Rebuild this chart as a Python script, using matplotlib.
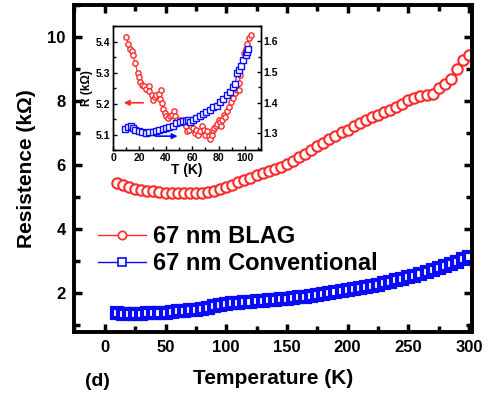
import matplotlib
matplotlib.use("Agg")
import matplotlib.pyplot as plt
from matplotlib.ticker import MultipleLocator

plt.rcParams["font.family"] = ["Liberation Sans", "DejaVu Sans"]
plt.rcParams["font.weight"] = "bold"

# main panel data: temperature (K) and resistance (kOhm)
temp = [10, 15, 20, 25, 30, 35, 40, 45, 50, 55, 60, 65, 70, 75, 80, 85, 90, 95,
        100, 105, 110, 115, 120, 125, 130, 135, 140, 145, 150, 155, 160, 165,
        170, 175, 180, 185, 190, 195, 200, 205, 210, 215, 220, 225, 230, 235,
        240, 245, 250, 255, 260, 265, 270, 275, 280, 285, 290, 295, 300]
r_blag = [5.43, 5.36, 5.30, 5.26, 5.22, 5.20, 5.18, 5.16, 5.14, 5.13, 5.12, 5.12,
          5.12, 5.12, 5.14, 5.17, 5.20, 5.26, 5.32, 5.39, 5.46, 5.53, 5.61, 5.68,
          5.75, 5.82, 5.89, 5.95, 6.02, 6.12, 6.24, 6.36, 6.48, 6.58, 6.68, 6.80,
          6.92, 7.02, 7.11, 7.21, 7.30, 7.40, 7.50, 7.58, 7.66, 7.73, 7.82, 7.92,
          8.02, 8.10, 8.16, 8.18, 8.22, 8.40, 8.52, 8.70, 9.00, 9.30, 9.45]
r_conv = [1.37, 1.35, 1.34, 1.34, 1.35, 1.36, 1.36, 1.37, 1.38, 1.40, 1.42, 1.44,
          1.46, 1.48, 1.51, 1.54, 1.58, 1.62, 1.65, 1.68, 1.70, 1.72, 1.73, 1.75,
          1.76, 1.77, 1.78, 1.80, 1.81, 1.83, 1.86, 1.88, 1.91, 1.94, 1.97, 2.00,
          2.04, 2.07, 2.10, 2.13, 2.16, 2.20, 2.23, 2.26, 2.30, 2.34, 2.39, 2.44,
          2.49, 2.54, 2.59, 2.65, 2.72, 2.78, 2.85, 2.91, 2.98, 3.05, 3.12]

# inset data (low temperature zoom)
t_in_blag = [10.2, 11.7, 12.7, 14.0, 14.8, 16.8, 18.6, 19.8, 20.4, 21.9, 23.4, 25.0,
             27.0, 27.5, 29.5, 30.0, 31.6, 32.6, 34.6, 36.1, 35.6, 37.2, 37.7, 39.2,
             40.2, 41.7, 43.3, 44.8, 45.8, 46.8, 48.3, 50.4, 52.0, 53.0, 55.0, 56.0,
             57.5, 59.0, 60.6, 62.0, 63.0, 64.0, 65.6, 67.2, 68.7, 69.7, 71.2, 72.3,
             73.3, 74.8, 75.8, 76.8, 77.9, 78.9, 79.9, 80.9, 81.9, 82.4, 84.0, 85.0,
             86.0, 87.5, 89.0, 90.6, 92.0, 93.6, 95.2, 95.7, 96.2, 97.2, 98.2, 99.2,
             100.3, 101.3, 102.8, 104.3]
r_in_blag = [5.417, 5.394, 5.378, 5.372, 5.359, 5.331, 5.299, 5.288, 5.271, 5.261,
             5.256, 5.247, 5.256, 5.240, 5.229, 5.213, 5.221, 5.229, 5.232, 5.243,
             5.215, 5.202, 5.183, 5.170, 5.159, 5.154, 5.159, 5.165, 5.175, 5.159,
             5.148, 5.146, 5.143, 5.148, 5.127, 5.111, 5.116, 5.127, 5.121, 5.105,
             5.116, 5.100, 5.111, 5.127, 5.116, 5.100, 5.111, 5.095, 5.086, 5.100,
             5.116, 5.121, 5.129, 5.135, 5.148, 5.140, 5.127, 5.148, 5.165, 5.157,
             5.175, 5.189, 5.204, 5.218, 5.234, 5.243, 5.243, 5.267, 5.294, 5.320,
             5.342, 5.363, 5.376, 5.394, 5.412, 5.422]
t_in_conv = [9.2, 11.7, 13.5, 14.8, 16.8, 19.3, 21.9, 25.0, 27.5, 30.0, 32.6, 35.1,
             37.7, 40.2, 42.7, 45.3, 47.8, 50.4, 53.0, 55.0, 57.0, 58.5, 60.6, 63.0,
             65.6, 68.2, 70.7, 73.3, 75.8, 78.4, 80.9, 83.5, 86.0, 88.5, 91.0, 92.6,
             93.6, 95.7, 97.2, 98.7, 100.3, 101.3, 102.3]
r_in_conv = [1.315, 1.321, 1.323, 1.318, 1.312, 1.308, 1.303, 1.302, 1.304, 1.304,
             1.307, 1.310, 1.313, 1.317, 1.321, 1.325, 1.332, 1.337, 1.340, 1.340,
             1.342, 1.337, 1.342, 1.350, 1.355, 1.364, 1.370, 1.377, 1.384, 1.390,
             1.402, 1.410, 1.424, 1.435, 1.451, 1.462, 1.495, 1.505, 1.518, 1.538,
             1.554, 1.565, 1.573]

red = "#ff2a2a"
blue = "#0a0aff"

fig = plt.figure(figsize=(4.99, 3.98), dpi=100)
ax = fig.add_axes([0.148, 0.166, 0.798, 0.821])

ax.plot(temp, r_blag, color=red, lw=1, marker="o", ms=7.5, mfc="white",
        mec=red, mew=1.5, label="67 nm BLAG")
ax.plot(temp, r_conv, color=blue, lw=1, marker="s", ms=7, mfc="white",
        mec=blue, mew=3, label="67 nm Conventional")

ax.set_xlim(-25.5, 302.5)
ax.set_ylim(0.78, 11.0)
ax.xaxis.set_major_locator(MultipleLocator(50))
ax.xaxis.set_minor_locator(MultipleLocator(25))
ax.yaxis.set_major_locator(MultipleLocator(2))
ax.yaxis.set_minor_locator(MultipleLocator(1))
ax.tick_params(which="both", direction="in", top=True, right=True,
               labeltop=False, labelright=False, width=2.5)
ax.tick_params(which="major", length=6, labelsize=12, pad=6)
ax.tick_params(which="minor", length=4)
for sp in ax.spines.values():
    sp.set_linewidth(2.8)
for lab in ax.get_xticklabels() + ax.get_yticklabels():
    lab.set_fontweight("bold")

ax.set_xlabel("Temperature (K)", fontsize=15, fontweight="bold", labelpad=10)
ax.set_ylabel("Resistence (k\u03a9)", fontsize=15, fontweight="bold", labelpad=8)

leg = ax.legend(loc="upper left", bbox_to_anchor=(0.038, 0.355), frameon=False,
                prop={"size": 17, "weight": "bold"}, handlelength=2.0,
                handletextpad=0.3, labelspacing=0.15, borderaxespad=0)
for h in leg.legend_handles:
    h.set_markersize(6)
    h.set_markeredgewidth(1.2)
    h.set_markerfacecolor("white")

fig.text(0.17, 0.03, "(d)", fontsize=14, fontweight="bold")

# inset
ins = fig.add_axes([0.2265, 0.623, 0.2965, 0.312])
ins.plot(t_in_blag, r_in_blag, color=red, lw=0.8, marker="o", ms=3.8,
         mfc="white", mec=red, mew=1.0)
ins.set_xlim(0, 112)
ins.set_ylim(5.05, 5.452)
ins.xaxis.set_major_locator(MultipleLocator(20))
ins.xaxis.set_minor_locator(MultipleLocator(10))
ins.yaxis.set_major_locator(MultipleLocator(0.1))
ins.yaxis.set_minor_locator(MultipleLocator(0.05))
ins.set_xlabel("T (K)", fontsize=10, fontweight="bold", labelpad=0)
ins.set_ylabel("R (k\u03a9)", fontsize=8.5, fontweight="bold", labelpad=2)
ins.annotate("", xy=(6, 5.203), xytext=(25, 5.203),
             arrowprops=dict(arrowstyle="-|>", color=red, lw=1.2,
                             mutation_scale=8))

ins2 = ins.twinx()
ins2.plot(t_in_conv, r_in_conv, color=blue, lw=0.8, marker="s", ms=3.8,
          mfc="white", mec=blue, mew=1.0)
ins2.set_ylim(1.245, 1.65)
ins2.yaxis.set_major_locator(MultipleLocator(0.1))
ins2.yaxis.set_minor_locator(MultipleLocator(0.05))
ins.annotate("", xy=(51, 5.095), xytext=(30, 5.095),
             arrowprops=dict(arrowstyle="-|>", color=blue, lw=1.2,
                             mutation_scale=8))

for a in (ins, ins2):
    a.tick_params(which="both", direction="in", width=1, labelsize=7.5, pad=2)
    a.tick_params(which="major", length=3)
    a.tick_params(which="minor", length=2)
    for sp in a.spines.values():
        sp.set_linewidth(1.0)
    for lab in a.get_xticklabels() + a.get_yticklabels():
        lab.set_fontweight("bold")

fig.savefig("out.png", dpi=100)
